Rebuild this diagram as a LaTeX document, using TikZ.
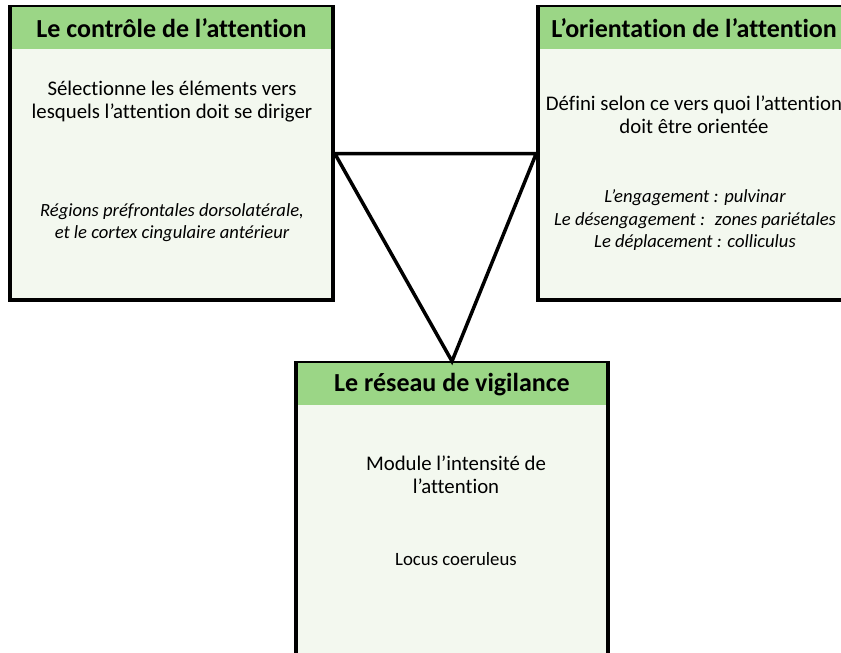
\documentclass[tikz,border=0pt]{standalone}
\usepackage{fontspec}
\setmainfont[Ligatures=CommonOff]{Carlito}
\usepackage{xcolor}
\definecolor{headgreen}{RGB}{155, 214, 134}
\definecolor{bodygreen}{RGB}{243, 248, 239}

\begin{document}
\begin{tikzpicture}[
    x=1pt, y=-1pt,
    panel/.style={rectangle, draw=black, line width=3.5pt, fill=bodygreen, inner sep=0pt},
    head/.style={rectangle, fill=headgreen, inner sep=0pt, minimum height=42pt, anchor=north, font=\fontsize{26}{30}\selectfont\bfseries},
    body/.style={align=center, font=\fontsize{20.8}{23}\selectfont},
    region/.style={align=center, font=\fontsize{18.6}{22.5}\selectfont\itshape},
    link/.style={line width=3.5pt, line join=miter}
]
    \clip (0,0) rectangle (841,653);
    \fill[white] (0,0) rectangle (841,653);

    % Control box
    \node[panel, minimum width=323pt, minimum height=293pt] (ctrl) at (171.5,153.5) {};
    \node[head, minimum width=319.5pt] (ctrl_head) at ([yshift=-1.75pt]ctrl.north) {Le contrôle de l’attention};
    \node[body] (ctrl_txt) at (172,101.5) {Sélectionne les éléments vers\\lesquels l’attention doit se diriger};
    \node[region] (ctrl_loc) at (172,222.5) {Régions préfrontales dorsolatérale,\\et le cortex cingulaire antérieur};

    % Orientation box
    \node[panel, minimum width=312pt, minimum height=293pt] (orient) at (694,153.5) {};
    \node[head, minimum width=308.5pt] (orient_head) at ([yshift=-1.75pt]orient.north) {L’orientation de l’attention};
    \node[body] (orient_txt) at (694,114.5) {Défini selon ce vers quoi l’attention\\doit être orientée};
    \node[region] (orient_loc) at (695,220.5) {L’engagement : pulvinar\\Le désengagement :~ zones pariétales\\Le déplacement : colliculus};

    % Vigilance box
    \node[panel, minimum width=312pt, minimum height=293pt] (vig) at (452,509.5) {};
    \node[head, minimum width=308.5pt] (vig_head) at ([yshift=-1.75pt]vig.north) {Le réseau de vigilance};
    \node[body] (vig_txt) at (456,475) {Module l’intensité de\\l’attention};
    \node[body, font=\fontsize{18.8}{22}\selectfont] (vig_loc) at (456,559) {Locus coeruleus};

    % Triangle
    \draw[link] (ctrl.east) -- (orient.west) -- (vig.north) -- cycle;

\end{tikzpicture}
\end{document}
